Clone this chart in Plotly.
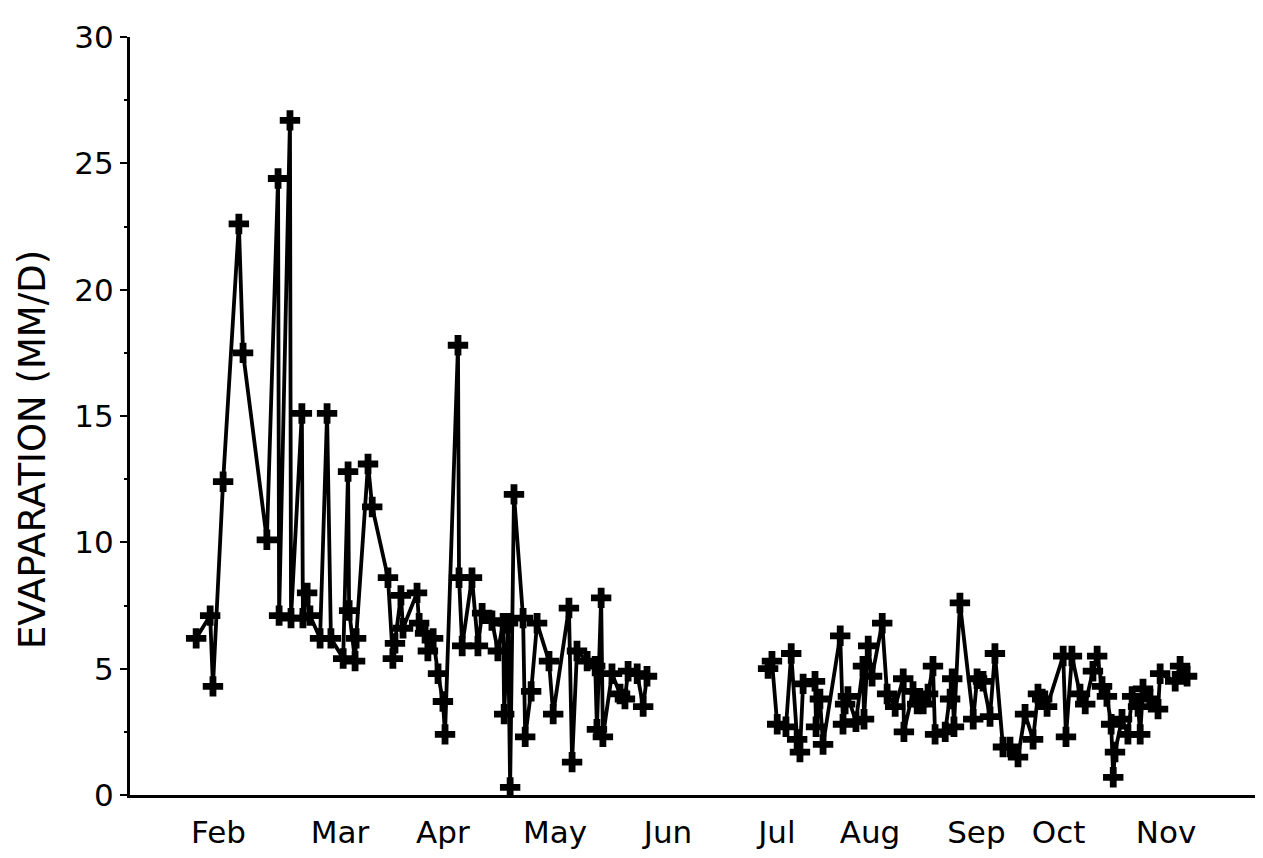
import plotly.graph_objects as go

# Day-of-year readings, period 1 (Feb - May)
days_spring = [40.6, 44.6, 45.4, 48.3, 52.8, 54.0, 60.8, 64.0, 64.3, 67.4, 67.7, 70.8, 71.1, 72.3,
               73.1, 76.0, 78.0, 79.1, 82.6, 84.0, 84.3, 86.0, 86.3, 89.7, 90.9, 95.4, 96.8, 97.4,
               99.1, 99.7, 103.7, 104.3, 106.0, 106.8, 108.3, 109.7, 111.1, 111.7, 115.4, 115.7,
               116.6, 119.4, 121.1, 122.3, 125.1, 126.8, 128.3, 128.6, 129.7, 130.3, 131.4, 134.0,
               134.6, 136.3, 138.0, 141.4, 142.6, 147.1, 148.0, 149.4, 152.3, 154.6, 155.1, 156.3,
               156.8, 159.4, 161.7, 163.1, 164.0, 166.6, 168.3, 169.4]
evap_spring = [6.2, 7.1, 4.3, 12.4, 22.6, 17.5, 10.1, 24.4, 7.1, 26.7, 7.0, 15.1, 7.0, 8.0,
               7.1, 6.2, 15.1, 6.2, 5.4, 12.8, 7.3, 5.3, 6.2, 13.1, 11.4, 8.6, 5.4, 6.0,
               7.9, 6.6, 8.0, 6.8, 6.4, 5.7, 6.2, 4.8, 3.7, 2.4, 17.8, 8.6,
               5.9, 8.6, 5.9, 7.2, 6.9, 5.7, 6.8, 3.2, 6.8, 0.3, 11.9, 7.0,
               2.3, 4.1, 6.8, 5.3, 3.2, 7.4, 1.3, 5.7, 5.3, 5.1, 2.6, 7.8,
               2.3, 4.8, 4.0, 3.8, 4.9, 4.8, 3.5, 4.7]

# Day-of-year readings, period 2 (Jul - Nov)
days_autumn = [204.0, 205.1, 206.6, 209.1, 210.6, 212.3, 213.1, 214.0, 217.4, 217.7, 218.8, 219.7,
               224.6, 225.4, 226.0, 226.8, 229.1, 231.1, 231.4, 232.6, 233.7, 236.6, 238.0, 240.3,
               242.6, 242.8, 245.4, 246.6, 248.3, 249.7, 251.1, 251.7, 254.6, 256.0, 256.6, 257.1,
               258.8, 262.6, 263.7, 265.4, 267.4, 268.8, 271.1, 273.1, 275.4, 277.4, 279.7, 281.1,
               282.3, 283.7, 288.3, 289.1, 290.8, 293.1, 294.6, 296.8, 298.0, 299.4, 300.8, 302.0,
               302.6, 303.1, 305.1, 306.8, 308.0, 309.7, 310.3, 311.1, 313.1, 315.4, 316.0, 320.3,
               321.7, 323.7]
evap_autumn = [5.0, 5.3, 2.8, 2.7, 5.6, 2.2, 1.7, 4.4, 4.5, 2.7, 3.8, 2.0,
               6.3, 2.8, 3.6, 3.9, 2.9, 5.1, 3.0, 5.9, 4.7, 6.8, 4.0, 3.5,
               4.6, 2.5, 4.1, 3.6, 3.6, 4.0, 5.1, 2.4, 2.5, 3.8, 4.6, 2.7,
               7.6, 3.0, 4.6, 4.5, 3.1, 5.6, 1.9, 1.9, 1.5, 3.2, 2.2, 4.0,
               3.8, 3.5, 5.5, 2.3, 5.5, 4.0, 3.6, 4.9, 5.5, 4.3, 3.9, 2.8,
               0.7, 1.7, 3.0, 2.4, 3.9, 3.5, 2.4, 4.2, 3.8, 3.4, 4.8, 4.5,
               5.1, 4.7]

month_labels = ["Feb", "Mar", "Apr", "May", "Jun", "Jul", "Aug", "Sep", "Oct", "Nov"]
month_label_days = [47.0, 81.7, 111.1, 143.1, 175.4, 206.5, 233.1, 263.5, 287.0, 317.7]

y_ticks = [0, 5, 10, 15, 20, 25, 30]
y_title = "EVAPARATION (MM/D)"

FONT = "DejaVu Sans"
FS = 31
style = dict(mode="lines+markers",
             line=dict(color="black", width=3.8),
             marker=dict(symbol="cross", size=17, color="black"),
             showlegend=False, hoverinfo="x+y")

fig = go.Figure()
fig.add_trace(go.Scatter(x=days_spring, y=evap_spring, **style))
fig.add_trace(go.Scatter(x=days_autumn, y=evap_autumn, **style))

# page body has an 8px default margin, so the figure is sized/offset to compensate
fig.update_layout(
    width=1255, height=850,
    paper_bgcolor="white", plot_bgcolor="white",
    margin=dict(l=122, r=8, t=29, b=63),
    font=dict(family=FONT, size=FS, color="black"),
)
fig.update_xaxes(
    range=[21.7, 343.1], automargin=False,
    tickmode="array", tickvals=month_label_days, ticktext=month_labels,
    showgrid=False, zeroline=False,
    showline=True, linecolor="black", linewidth=3,
    ticks="", ticklabelstandoff=8,
    tickfont=dict(family=FONT, size=FS, color="black"),
)
fig.update_yaxes(
    range=[0, 30], automargin=False,
    tickmode="array", tickvals=y_ticks,
    showgrid=False, zeroline=False,
    showline=True, linecolor="black", linewidth=3,
    ticks="outside", ticklen=7, tickwidth=2, tickcolor="black",
    minor=dict(ticks="outside", ticklen=3, tickwidth=2, tickcolor="black", dtick=2.5),
    tickfont=dict(family=FONT, size=FS, color="black"),
)
fig.add_annotation(
    text=y_title, textangle=-90,
    xref="paper", yref="paper", x=0, y=0.455,
    xanchor="center", yanchor="middle", xshift=-98, showarrow=False,
    borderpad=0,
    font=dict(family=FONT, size=37, color="black"),
)

fig.write_html("out.html")
